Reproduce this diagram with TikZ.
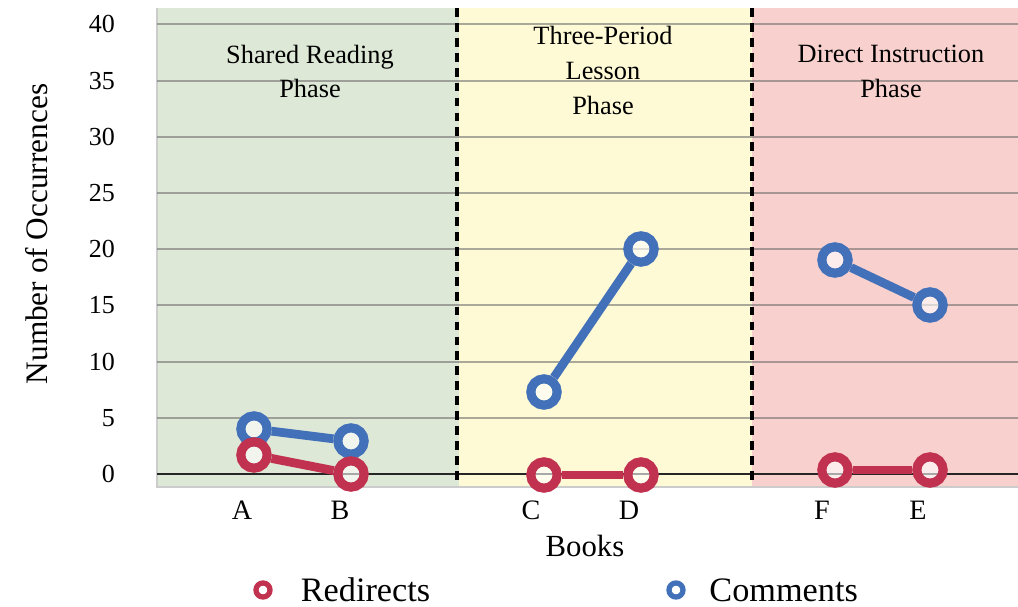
\documentclass[tikz,border=0pt]{standalone}
\usepackage{fontspec}
\setmainfont{Liberation Serif}
\usetikzlibrary{positioning}
\definecolor{shared}{HTML}{DEE8D6}
\definecolor{lesson}{HTML}{FEFAD6}
\definecolor{direct}{HTML}{F8D1CE}
\definecolor{redir}{HTML}{C13150}
\definecolor{comm}{HTML}{4271BA}
\tikzset{
    ring/.style={
           circle,
           line width=5.2pt,
           minimum size=15pt,
           inner sep=0pt,
           fill=white, fill opacity=0.6, draw opacity=1},
    redring/.style={ring, draw=redir},
    bluering/.style={ring, draw=comm},
    keyring/.style={line width=3pt, minimum size=8pt},
    redline/.style={
           line width=5pt,
           draw=redir},
    blueline/.style={
           line width=5pt,
           draw=comm},
    gridline/.style={draw=black!60, opacity=0.55, line width=1.2pt},
    phase/.style={align=center, font=\fontsize{15}{19.8}\selectfont},
    tick/.style={anchor=east, font=\fontsize{14.8}{17}\selectfont},
    book/.style={font=\fontsize{16}{19}\selectfont},
    legend/.style={anchor=west, font=\fontsize{19.5}{22}\selectfont}
}
\begin{document}
\begin{tikzpicture}[x=0.02cm, y=-0.02cm]
        \useasboundingbox (0,0) rectangle (1018,607);
        % phase backgrounds
        \fill[shared] (157,8) rectangle (459,487);
        \fill[lesson] (459,8) rectangle (752,487);
        \fill[direct] (752,8) rectangle (1018,487);
        \draw[black!20, line width=0.8pt] (1018,487) -- (157,487) -- (157,8);
        \foreach \k in {1,...,8}
            \draw[gridline] (157,{474-56.2*\k}) -- (1018,{474-56.2*\k});
        \draw[black!85, line width=1.3pt] (157,474) -- (1018,474);
        \draw[line width=2.4pt, dash pattern=on 5pt off 3.5pt] (457,8) -- (457,480);
        \draw[line width=2.4pt, dash pattern=on 5pt off 3.5pt] (752,8) -- (752,480);
        \node[phase] (p1) at (310,71.5) {Shared Reading\\Phase};
        \node[phase] (p2) at (603,70.5) {Three-Period\\Lesson\\Phase};
        \node[phase] (p3) at (891,71.5) {Direct Instruction\\Phase};
        % axes
        \foreach \k in {0,...,8}{
            \pgfmathtruncatemacro\v{5*\k}
            \node[tick] (t\k) at (121,{474-56.2*\k}) {\v};
        }
        \node[rotate=90, font=\fontsize{17.8}{20}\selectfont] (ylab) at (37,234) {Number of Occurrences};
        \node[book] (bA) at (242,510) {A};
        \node[book] (bB) at (340,510) {B};
        \node[book] (bC) at (531,510) {C};
        \node[book] (bD) at (629,510) {D};
        \node[book] (bF) at (822,510) {F};
        \node[book] (bE) at (918,510) {E};
        \node[font=\fontsize{17.5}{20}\selectfont] (xlab) at (585,546) {Books};
        % comments
        \node[bluering] (cA) at (254,429) {};
        \node[bluering] (cB) at (351,441) {};
        \node[bluering] (cC) at (544,392) {};
        \node[bluering] (cD) at (641,249) {};
        \node[bluering] (cF) at (835,260) {};
        \node[bluering] (cE) at (930,305) {};
        \draw[blueline] (cA) -- (cB);
        \draw[blueline] (cC) -- (cD);
        \draw[blueline] (cF) -- (cE);
        % redirects
        \node[redring] (rA) at (254,455) {};
        \node[redring] (rB) at (351,474) {};
        \node[redring] (rC) at (544,475) {};
        \node[redring] (rD) at (641,475) {};
        \node[redring] (rF) at (835,470) {};
        \node[redring] (rE) at (930,470) {};
        \draw[redline] (rA) -- (rB);
        \draw[redline] (rC) -- (rD);
        \draw[redline] (rF) -- (rE);
        % legend
        \node[redring, keyring] (kr) at (263,590) {};
        \node[legend, right=12.5pt of kr] (kred) {Redirects};
        \node[bluering, keyring] (kb) at (676,590) {};
        \node[legend, right=10pt of kb] (kblue) {Comments};
\end{tikzpicture}
\end{document}
